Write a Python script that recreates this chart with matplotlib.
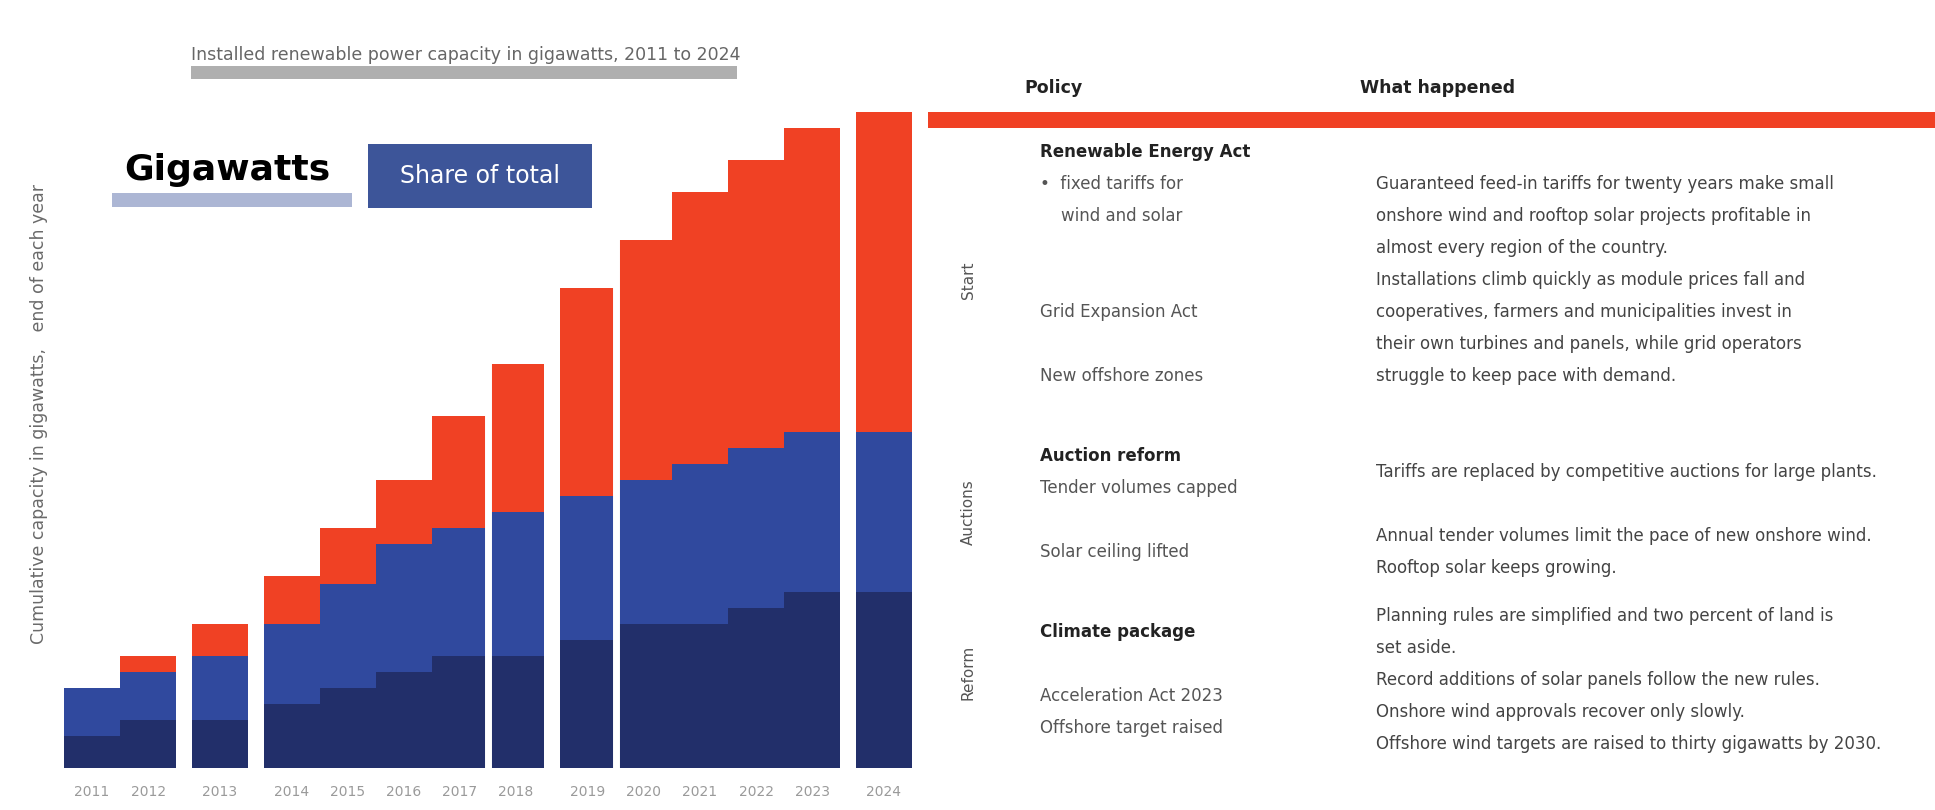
import numpy as np
import matplotlib.pyplot as plt
from matplotlib.patches import Rectangle

W, H = 1935, 810

# data: three stacked series per year, years split into phases
years = ["2011", "2012", "2013", "2014", "2015", "2016", "2017",
         "2018", "2019", "2020", "2021", "2022", "2023", "2024"]
group_sizes = [2, 1, 5, 5, 1]
onshore = [4, 6, 6, 8, 10, 12, 14, 14, 16, 18, 18, 20, 22, 22]
offshore = [6, 6, 8, 10, 13, 16, 16, 18, 18, 18, 20, 20, 20, 20]
solar = [0, 2, 4, 6, 7, 8, 14, 18.5, 26, 30, 34, 36, 38, 40]
breaks_after = [6, 8]  # thin white separators after these columns

title = "Installed renewable power capacity in gigawatts, 2011 to 2024"
ylabel = "Cumulative capacity in gigawatts,   end of each year"
tab_active = "Gigawatts"
tab_other = "Share of total"

header_left = "Policy"
header_right = "What happened"
phase_names = ["Start", "Auctions", "Reform"]
left_text = [
    ["Renewable Energy Act", "\u2022  fixed tariffs for", "    wind and solar", "",
     "", "Grid Expansion Act", "", "New offshore zones"],
    ["Auction reform", "Tender volumes capped", "", "Solar ceiling lifted"],
    ["Climate package", "", "Acceleration Act 2023", "Offshore target raised"],
]
right_text = [
    ["Guaranteed feed-in tariffs for twenty years make small",
     "onshore wind and rooftop solar projects profitable in",
     "almost every region of the country.",
     "Installations climb quickly as module prices fall and",
     "cooperatives, farmers and municipalities invest in",
     "their own turbines and panels, while grid operators",
     "struggle to keep pace with demand."],
    ["Tariffs are replaced by competitive auctions for large plants.",
     "",
     "Annual tender volumes limit the pace of new onshore wind.",
     "Rooftop solar keeps growing."],
    ["Planning rules are simplified and two percent of land is",
     "set aside.",
     "Record additions of solar panels follow the new rules.",
     "Onshore wind approvals recover only slowly.",
     "Offshore wind targets are raised to thirty gigawatts by 2030."],
]

NAVY = "#222f6a"
BLUE = "#30499e"
RED = "#f04124"


def fx(x):
    return x / W


def fy(y):
    return 1 - y / H


def rect(fig, x0, y0, x1, y1, color):
    fig.add_artist(Rectangle((fx(x0), fy(y1)), (x1 - x0) / W, (y1 - y0) / H,
                             transform=fig.transFigure, color=color, lw=0))


fig = plt.figure(figsize=(W / 100, H / 100), dpi=100)
fig.patch.set_facecolor("white")

# ---- bar chart
ax = fig.add_axes([fx(64), 42 / H, 848 / W, 672 / H])
gap = 0.28
pos = []
x = 0.0
for gi, n in enumerate(group_sizes):
    for k in range(n):
        pos.append(x + 0.5)
        x += 1
    if gi < len(group_sizes) - 1:
        x += gap
pos = np.array(pos)
onshore = np.array(onshore, dtype=float)
offshore = np.array(offshore, dtype=float)
solar = np.array(solar, dtype=float)

ax.bar(pos, onshore, width=1.0, color=NAVY, lw=0)
ax.bar(pos, offshore, width=1.0, bottom=onshore, color=BLUE, lw=0)
ax.bar(pos, solar, width=1.0, bottom=onshore + offshore, color=RED, lw=0)
for i in breaks_after:
    ax.axvline(pos[i] + 0.5, color="white", lw=5)

ax.set_xlim(0, x)
ax.set_ylim(0, 84)
ax.set_xticks(pos, years)
ax.set_yticks([])
ax.tick_params(axis="x", length=0, pad=12, labelsize=10, labelcolor="#9a9a9a")
for s in ax.spines.values():
    s.set_visible(False)

fig.text(fx(39), fy(414), ylabel, rotation=90, ha="center", va="center",
         fontsize=12.5, color="#6a6a6a")

# title and rule
fig.text(fx(191), fy(55), title, ha="left", va="center", fontsize=12.5, color="#666666")
rect(fig, 191, 66, 737, 79, "#afafaf")

# tab-style legend
fig.text(fx(124), fy(170), tab_active, ha="left", va="center", fontsize=26,
         fontweight="bold", color="black")
rect(fig, 112, 193, 352, 207, "#acb6d4")
rect(fig, 368, 144, 592, 208, "#3d5599")
fig.text(fx(480), fy(176), tab_other, ha="center", va="center", fontsize=17, color="white")

# ---- right panel
fig.text(fx(1024), fy(88), header_left, ha="left", va="center", fontsize=12.5,
         fontweight="bold", color="#222222")
fig.text(fx(1360), fy(88), header_right, ha="left", va="center", fontsize=12.5,
         fontweight="bold", color="#222222")
rect(fig, 928, 112, 1935, 128, RED)

left_tops = [152, 456, 632]
right_tops = [184, 472, 616]
phase_centers = [280, 512, 672]
line_h = 32
for k in range(len(phase_names)):
    for j, line in enumerate(left_text[k]):
        fig.text(fx(1040), fy(left_tops[k] + j * line_h), line, ha="left", va="center",
                 fontsize=12, color="#222222" if j == 0 else "#555555",
                 fontweight="bold" if j == 0 else "normal")
    for j, line in enumerate(right_text[k]):
        fig.text(fx(1376), fy(right_tops[k] + j * line_h), line, ha="left", va="center",
                 fontsize=12, color="#444444")
    fig.text(fx(968), fy(phase_centers[k]), phase_names[k], rotation=90, ha="center",
             va="center", fontsize=11, color="#555555")

fig.savefig("out.png", dpi=100, facecolor="white")
